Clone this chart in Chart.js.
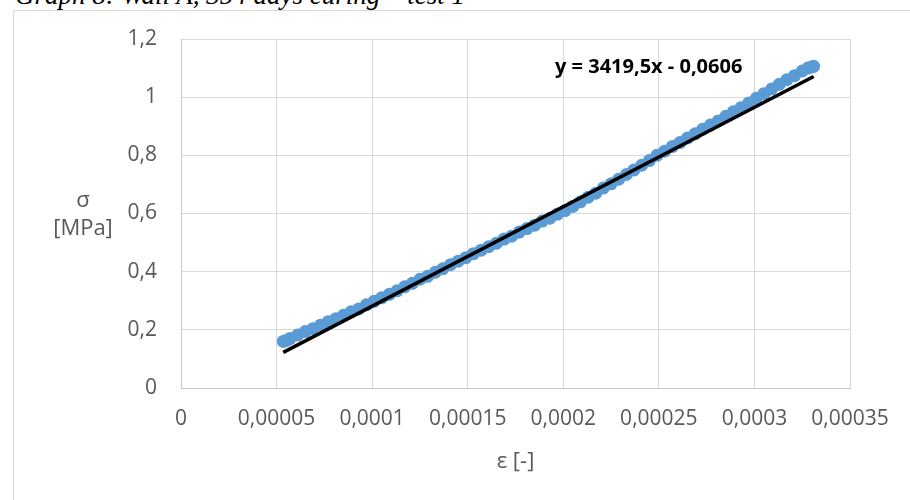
<!DOCTYPE html>
<html>
<head>
<meta charset="utf-8">
<script src="https://cdn.jsdelivr.net/npm/chart.js@4.4.1/dist/chart.umd.min.js"></script>
<style>
  html, body { margin: 0; padding: 0; background: #ffffff; }
  #wrap { position: relative; width: 910px; height: 500px; overflow: hidden; }
  #frame { position: absolute; left: 13px; top: 10px; width: 1000px; height: 600px; border: 1px solid #d9d9d9; box-sizing: border-box; }
  #pageTitle { position: absolute; left: 15px; top: -18px; font-family: "Liberation Serif", serif; font-style: italic; font-size: 27px; line-height: 27px; color: #000; white-space: nowrap; }
  canvas { position: absolute; left: 0; top: 0; }
</style>
</head>
<body>
<div id="wrap">
  <div id="frame"></div>
  <div id="pageTitle">Graph 8: Wall A, 354 days curing – test 1</div>
  <canvas id="c" width="910" height="500"></canvas>
</div>
<script>
// ---- data ----
const strain = [
  0.0000535, 0.000055, 0.000057, 0.000061, 0.000065, 0.000069, 0.000073, 0.000077,
  0.000081, 0.000085, 0.000089, 0.000093, 0.000097, 0.000101, 0.000105, 0.000109,
  0.000113, 0.000117, 0.000121, 0.000125, 0.000129, 0.000133, 0.000137, 0.000141,
  0.000145, 0.000149, 0.000153, 0.000157, 0.000161, 0.000165, 0.000169, 0.000173,
  0.000177, 0.000181, 0.000185, 0.000189, 0.000193, 0.000197, 0.000201, 0.000205,
  0.000209, 0.000213, 0.000217, 0.000221, 0.000225, 0.000229, 0.000233, 0.000237,
  0.000241, 0.000245, 0.000249, 0.000253, 0.000257, 0.000261, 0.000265, 0.000269,
  0.000273, 0.000277, 0.000281, 0.000285, 0.000289, 0.000293, 0.000297, 0.000301,
  0.000305, 0.000309, 0.000313, 0.000317, 0.000321, 0.000325, 0.000328, 0.000330, 0.000331
];
const stress = [
  0.160, 0.163, 0.170, 0.182, 0.194, 0.204, 0.216, 0.228,
  0.238, 0.250, 0.262, 0.272, 0.286, 0.298, 0.310, 0.322,
  0.334, 0.348, 0.360, 0.374, 0.384, 0.398, 0.410, 0.424,
  0.436, 0.448, 0.462, 0.474, 0.486, 0.498, 0.512, 0.522,
  0.536, 0.548, 0.560, 0.574, 0.584, 0.598, 0.610, 0.624,
  0.640, 0.656, 0.670, 0.688, 0.702, 0.718, 0.734, 0.750,
  0.766, 0.782, 0.800, 0.814, 0.830, 0.844, 0.860, 0.874,
  0.890, 0.904, 0.918, 0.934, 0.950, 0.964, 0.980, 0.996,
  1.012, 1.028, 1.044, 1.060, 1.074, 1.090, 1.100, 1.104, 1.106
];
const trendSlope = 3419.5;
const trendIntercept = -0.0606;
const trendLabel = "y = 3419,5x - 0,0606";
const xTickValues = [0, 0.00005, 0.0001, 0.00015, 0.0002, 0.00025, 0.0003, 0.00035];
const xTickLabels = ["0", "0,00005", "0,0001", "0,00015", "0,0002", "0,00025", "0,0003", "0,00035"];
const yTickValues = [0, 0.2, 0.4, 0.6, 0.8, 1.0, 1.2];
const yTickLabels = ["0", "0,2", "0,4", "0,6", "0,8", "1", "1,2"];
const xTitle = "ε [-]";
const yTitleLines = ["σ", "[MPa]"];

// ---- build datasets ----
const points = strain.map((x, i) => ({ x: x, y: stress[i] }));
const xMin = Math.min(...strain), xMax = Math.max(...strain);
const trend = [xMin, xMax].map(x => ({ x: x, y: trendSlope * x + trendIntercept }));

const tickColor = "#595959";
const fontFam = "'Open Sans', 'Noto Sans', sans-serif";

const overlay = {
  id: "overlay",
  afterDraw(chart) {
    const ctx = chart.ctx;
    const area = chart.chartArea;
    ctx.save();
    ctx.fillStyle = tickColor;
    ctx.font = "22px " + fontFam;
    ctx.textAlign = "center";
    ctx.textBaseline = "middle";
    ctx.fillText(yTitleLines[0], 83, 201);
    ctx.fillText(yTitleLines[1], 83, 229);
    ctx.fillText(xTitle, (area.left + area.right) / 2, 462);
    ctx.fillStyle = "#000000";
    ctx.font = "bold 20px " + fontFam;
    ctx.textAlign = "left";
    ctx.fillText(trendLabel, 555, 67);
    ctx.restore();
  }
};

new Chart(document.getElementById("c"), {
  type: "scatter",
  data: {
    datasets: [
      {
        label: "trend",
        data: trend,
        showLine: true,
        borderColor: "#000000",
        borderWidth: 3.5,
        pointRadius: 0,
        fill: false,
        order: 0
      },
      {
        label: "data",
        data: points,
        backgroundColor: "#5B9BD5",
        borderWidth: 0,
        pointRadius: 6.5,
        pointHoverRadius: 6.5,
        order: 1
      }
    ]
  },
  options: {
    responsive: false,
    animation: false,
    devicePixelRatio: 1,
    layout: { padding: { left: 0, right: 60, top: 39, bottom: 0 } },
    plugins: { legend: { display: false }, tooltip: { enabled: false }, title: { display: false } },
    scales: {
      x: {
        type: "linear",
        min: 0,
        max: 0.00035,
        afterBuildTicks(axis) { axis.ticks = xTickValues.map(v => ({ value: v })); },
        afterFit(scale) { scale.height = 112; },
        grid: { color: "#d9d9d9", lineWidth: 1, drawTicks: false },
        border: { color: "#c8c8c8", width: 1 },
        ticks: {
          padding: 18,
          color: tickColor,
          font: { family: fontFam, size: 21 },
          maxRotation: 0,
          autoSkip: false,
          callback: (v, i) => xTickLabels[i]
        }
      },
      y: {
        type: "linear",
        min: 0,
        max: 1.2,
        afterBuildTicks(axis) { axis.ticks = yTickValues.map(v => ({ value: v })); },
        afterFit(scale) { scale.width = 181; },
        grid: { color: "#d9d9d9", lineWidth: 1, drawTicks: false },
        border: { color: "#c8c8c8", width: 1 },
        ticks: {
          padding: 24,
          color: tickColor,
          font: { family: fontFam, size: 21 },
          autoSkip: false,
          callback: (v, i) => yTickLabels[i]
        }
      }
    }
  },
  plugins: [overlay]
});
</script>
</body>
</html>
